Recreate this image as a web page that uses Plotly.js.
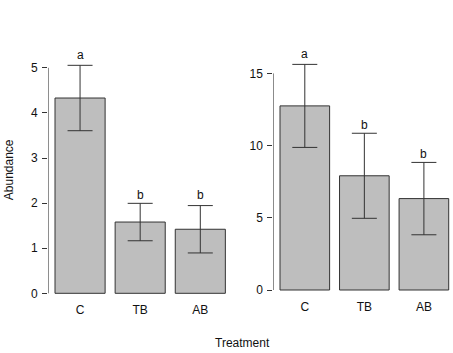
<!DOCTYPE html>
<html>
<head>
<meta charset="utf-8">
<script src="https://cdn.plot.ly/plotly-3.0.1.min.js"></script>
<style>
  html, body { margin: 0; padding: 0; background: #fff; }
  #chart { width: 453px; height: 353px; }
</style>
</head>
<body>
<div id="chart"></div>
<script>
// Treatment groups and bar positions (R barplot style: width 1, space 0.2)
const categories = ["C", "TB", "AB"];
const barPos = [0.7, 1.9, 3.1];

// Panel 1: mean abundance and standard error
const meanLeft = [4.33, 1.58, 1.42];
const seLeft = [0.725, 0.415, 0.525];
const lettersLeft = ["a", "b", "b"];
const letterYLeft = [5.29, 2.18, 2.18];

// Panel 2: mean abundance and standard error
const meanRight = [12.75, 7.91, 6.33];
const seRight = [2.875, 2.945, 2.505];
const lettersRight = ["a", "b", "b"];
const letterYRight = [16.32, 11.43, 9.44];

const ticksLeft = [0, 1, 2, 3, 4, 5];
const ticksRight = [0, 5, 10, 15];

const W = 453, H = 353;
const FONT = "Liberation Sans, Arial, Helvetica, sans-serif";
const INK = "#111111";
const EDGE = "#333333";

function bars(x, y, se, xa, ya) {
  return {
    type: "bar", x: x, y: y, width: 1, xaxis: xa, yaxis: ya,
    marker: { color: "#bebebe", line: { color: EDGE, width: 1 } },
    error_y: { type: "data", array: se, visible: true, color: EDGE, thickness: 1, width: 12.5 },
    hoverinfo: "skip", showlegend: false
  };
}

const data = [
  bars(barPos, meanLeft, seLeft, "x", "y"),
  bars(barPos, meanRight, seRight, "x2", "y2")
];

// pixel helpers -> paper fractions
const fx = px => px / W;
const fy = py => (H - py) / H;

const plotTop = 40, plotBottom = 297;

function yAxis(range, ticks, domTop, domBottom, anchor) {
  return {
    range: range, domain: [fy(domBottom), fy(domTop)], anchor: anchor,
    tickmode: "array", tickvals: ticks, ticktext: ticks.map(String),
    ticks: "outside", ticklen: 5, tickwidth: 1, tickcolor: EDGE,
    showline: false, showgrid: false, zeroline: false,
    tickfont: { family: FONT, size: 12, color: INK },
    ticklabelstandoff: 2
  };
}
function xAxis(range, dom, anchor, standoff) {
  return {
    range: range, domain: dom, anchor: anchor,
    tickmode: "array", tickvals: barPos, ticktext: categories,
    ticks: "", showline: false, showgrid: false, zeroline: false,
    tickfont: { family: FONT, size: 12, color: INK },
    ticklabelstandoff: standoff
  };
}

// Left panel: 0 at 293.3px, 45.1 px per unit; right panel: 0 at 290px, 14.44 px per unit
const lScale = 45.1, lZero = 293.3;
const rScale = 14.44, rZero = 290.0;

const annotations = [];
barPos.forEach((x, i) => {
  annotations.push({ x: x, y: letterYLeft[i], xref: "x", yref: "y", text: lettersLeft[i],
    showarrow: false, font: { family: FONT, size: 12, color: INK }, yanchor: "middle" });
  annotations.push({ x: x, y: letterYRight[i], xref: "x2", yref: "y2", text: lettersRight[i],
    showarrow: false, font: { family: FONT, size: 12, color: INK }, yanchor: "middle" });
});
annotations.push({ x: fx(8.7), y: fy(169.5), xref: "paper", yref: "paper", text: "Abundance",
  textangle: -90, showarrow: false, font: { family: FONT, size: 12, color: INK },
  xanchor: "center", yanchor: "middle" });
annotations.push({ x: fx(243), y: fy(343), xref: "paper", yref: "paper", text: "Treatment",
  showarrow: false, font: { family: FONT, size: 12, color: INK },
  xanchor: "center", yanchor: "middle" });

const layout = {
  width: W, height: H,
  margin: { l: 0, r: 0, t: 0, b: 0 },
  paper_bgcolor: "#ffffff", plot_bgcolor: "#ffffff",
  bargap: 0,
  xaxis: xAxis([0.064, 3.736], [fx(48.2), fx(48.2 + 3.672 * 50.1)], "y", 4),
  yaxis: yAxis([-(plotBottom - lZero) / lScale, (lZero - plotTop) / lScale], ticksLeft, plotTop, plotBottom, "x"),
  xaxis2: xAxis([0.064, 3.68], [fx(273.25), fx(273.25 + 3.616 * 49.62)], "y2", 1),
  yaxis2: yAxis([-(plotBottom - rZero) / rScale, (rZero - plotTop) / rScale], ticksRight, plotTop, plotBottom, "x2"),
  shapes: [
    { type: "line", xref: "x", yref: "y", x0: 0.064, x1: 0.064, y0: 0, y1: 5, line: { color: EDGE, width: 1 } },
    { type: "line", xref: "x2", yref: "y2", x0: 0.064, x1: 0.064, y0: 0, y1: 15, line: { color: EDGE, width: 1 } }
  ],
  annotations: annotations
};

Plotly.newPlot("chart", data, layout, { staticPlot: true, displayModeBar: false });
</script>
</body>
</html>
